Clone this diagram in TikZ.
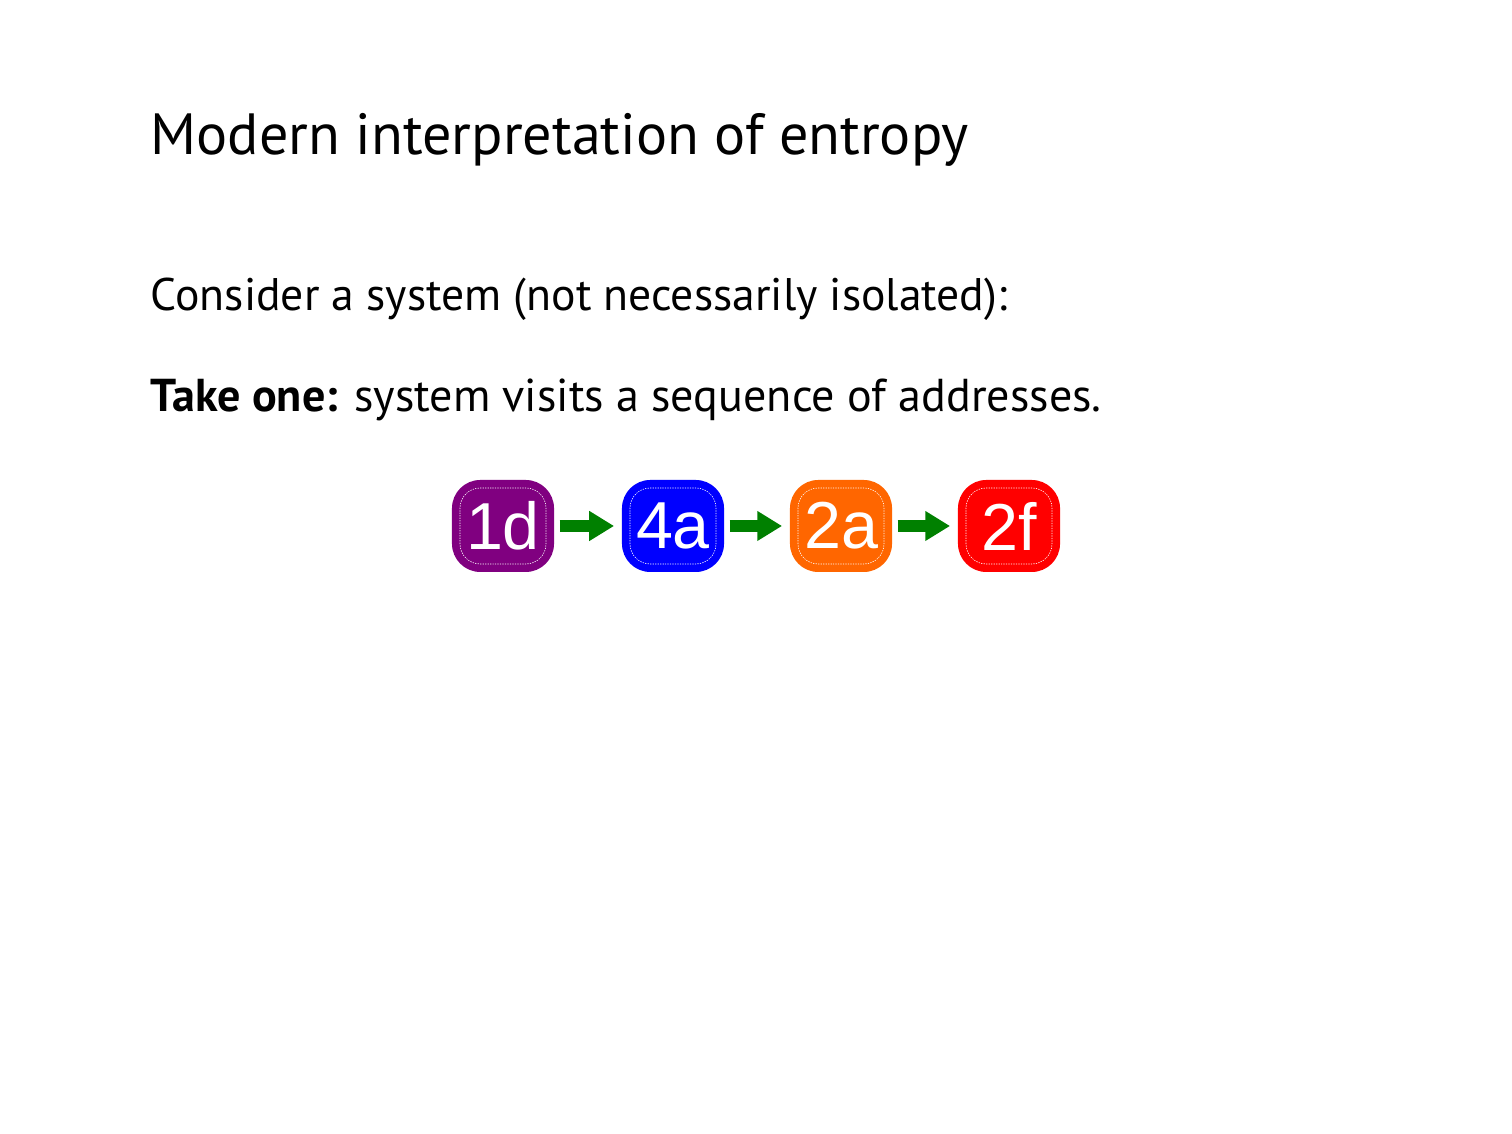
\documentclass[tikz,border=0pt]{standalone}
\usepackage{fontspec}
\setmainfont{PT Sans}
\newfontfamily\boxfont{Liberation Sans}
\usetikzlibrary{arrows.meta}
\definecolor{boxpurple}{RGB}{128,0,128}
\definecolor{boxblue}{RGB}{0,0,255}
\definecolor{boxorange}{RGB}{255,102,0}
\definecolor{boxred}{RGB}{255,0,0}
\definecolor{arrgreen}{RGB}{0,128,0}
\begin{document}
\begin{tikzpicture}[x=0.08466mm,y=-0.08466mm,
  addr/.style={rounded corners=2.4mm, minimum width=8.64mm, minimum height=7.79mm,
    inner sep=0pt, text=white, font=\boxfont\fontsize{16}{16}\selectfont},
  inner border/.style={draw=white, dash pattern=on 0.3pt off 0.3pt, line width=0.15pt, rounded corners=1.7mm},
  step arrow/.style={draw=arrgreen, line width=1.0mm,
    -{Triangle[length=2.1mm,width=2.4mm,fill=arrgreen]}},
  txt/.style={anchor=base west, inner sep=0pt}]
\useasboundingbox (0,0) rectangle (1512,1134);
\node[txt, font=\fontsize{14}{17}\selectfont] (title) at (150,155) {Modern interpretation of entropy};
\node[txt, font=\fontsize{11}{13}\selectfont] (l1) at (150,311) {Consider a system (not necessarily isolated):};
\node[txt, font=\fontsize{11.1}{13}\selectfont] (l2) at (150,412) {\textbf{Take one:} system visits a sequence of addresses.};
\node[addr, fill=boxpurple] (a) at (503,526) {1d};
\node[addr, fill=boxblue] (b) at (673,526) {4a};
\node[addr, fill=boxorange] (c) at (841,526) {2a};
\node[addr, fill=boxred] (d) at (1009,526) {2f};
\foreach \n in {a,b,c,d}
  \draw[inner border] ([shift={(0.75mm,0.75mm)}]\n.south west) rectangle ([shift={(-0.75mm,-0.75mm)}]\n.north east);
\draw[step arrow] ([xshift=0.4mm]a.east) -- ([xshift=-0.6mm]b.west);
\draw[step arrow] ([xshift=0.4mm]b.east) -- ([xshift=-0.6mm]c.west);
\draw[step arrow] ([xshift=0.4mm]c.east) -- ([xshift=-0.6mm]d.west);
\end{tikzpicture}
\end{document}
